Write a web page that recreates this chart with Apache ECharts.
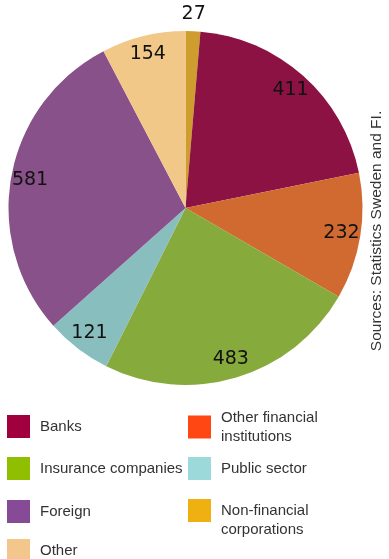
<!DOCTYPE html>
<html>
<head>
<meta charset="utf-8">
<script src="https://cdn.jsdelivr.net/npm/echarts@6/dist/echarts.min.js"></script>
<style>
  html, body { margin: 0; padding: 0; background: #fff; }
  #chart { width: 389px; height: 559px; }
</style>
</head>
<body>
<div id="chart"></div>
<script>
// Holders, listed clockwise from 12 o'clock
const categories = ['Non-financial corporations', 'Banks', 'Other financial institutions',
  'Insurance companies', 'Public sector', 'Foreign', 'Other'];
const values = [27, 411, 232, 483, 121, 581, 154];
// Slice fills and (brighter) legend swatches
const sliceColors = ['#CF9C2E', '#8C1244', '#D06A31', '#86AA3B', '#89BEBE', '#88518A', '#F2C888'];
const swatchColors = ['#EFB112', '#A1003F', '#FF4713', '#8FBF00', '#9CD9DB', '#874A97', '#F3C68B'];
const legendText = ['\nNon-financial\ncorporations', 'Banks', 'Other financial\ninstitutions',
  'Insurance companies', 'Public sector', 'Foreign', 'Other'];
const sourceNote = 'Sources: Statistics Sweden and FI.';

const CX = 185.5, CY = 208, R = 177;
const labelFont = { fontFamily: 'DejaVu Sans', fontSize: 19, color: '#111' };
const legendFont = 'Liberation Sans, Arial, sans-serif';

const pieData = categories.map((c, i) => ({ name: c, value: values[i], itemStyle: { color: sliceColors[i] } }));

// Transparent ring used only to place the value labels near the rim
const labelRing = (r0, r1, showIdx) => ({
  type: 'pie', silent: true, startAngle: 90, clockwise: true,
  center: [CX, CY], radius: [r0, r1], animation: false,
  itemStyle: { color: 'rgba(0,0,0,0)' },
  labelLine: { show: false },
  data: categories.map((c, i) => ({
    name: c + ' ', value: values[i],
    label: { show: showIdx(i), position: 'inside', formatter: String(values[i]), ...labelFont }
  }))
});

// Legend layout: [left, top] of each entry box
const legendPos = {
  'Banks': [7, 415], 'Other financial institutions': [188, 408],
  'Insurance companies': [7, 457], 'Public sector': [188, 457],
  'Foreign': [7, 500], 'Non-financial corporations': [188, 482],
  'Other': [7, 539]
};
const legends = categories.map((c, i) => ({
  left: legendPos[c][0], top: legendPos[c][1], padding: 0,
  itemWidth: 23, itemHeight: 23, itemGap: 0, icon: 'rect',
  selectedMode: false,
  formatter: () => legendText[i],
  textStyle: {
    fontFamily: legendFont, fontSize: 15, color: '#333', lineHeight: 19,
    padding: [0, 0, 0, 5]
  },
  data: [{ name: c, itemStyle: { color: swatchColors[i] } }]
}));

const chart = echarts.init(document.getElementById('chart'), null, { renderer: 'canvas' });
chart.setOption({
  backgroundColor: '#fff',
  animation: false,
  legend: legends,
  graphic: [{
    type: 'text', x: 377, y: 231, rotation: Math.PI / 2, silent: true,
    style: {
      text: sourceNote, fill: '#333', font: '15.5px ' + legendFont,
      align: 'center', verticalAlign: 'middle'
    }
  }],
  series: [
    {
      type: 'pie', startAngle: 90, clockwise: true, center: [CX, CY], radius: R,
      label: { show: false }, labelLine: { show: false },
      itemStyle: { borderWidth: 0 }, data: pieData
    },
    labelRing(135, 175, i => i !== 0),
    labelRing(184, 198, i => i === 0)
  ]
});
</script>
</body>
</html>
